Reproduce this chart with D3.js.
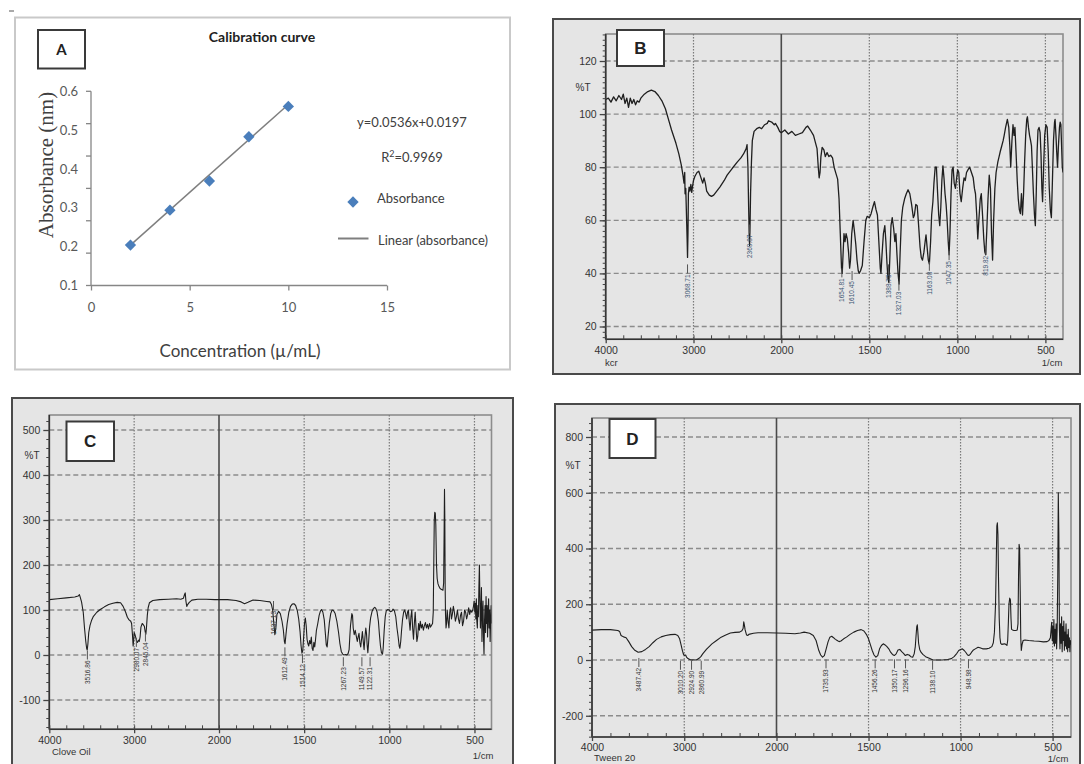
<!DOCTYPE html>
<html><head><meta charset="utf-8">
<script src="https://cdn.jsdelivr.net/npm/d3@7"></script>
<style>body{margin:0;background:#fff}svg{display:block}</style>
</head><body>
<svg id="c" width="1084" height="764"></svg>
<script>
// ---------- Panel A data ----------
const calConc = [2, 4, 6, 8, 10];
const calAbs = [0.204, 0.294, 0.369, 0.483, 0.561];
const trendConc = [2, 10];
const trendAbs = [0.204, 0.566];
const calXTicks = [0, 5, 10, 15];
const calYTicks = [0.1, 0.2, 0.3, 0.4, 0.5, 0.6];
const calTitle = "Calibration curve";
const calEquation = "y=0.0536x+0.0197";
const calR2 = "0.9969";

// ---------- FTIR tick labels ----------
const wnTicks = [4000, 3000, 2000, 1500, 1000, 500];
const wnDotted = [3000, 1500, 1000, 500];
const tTicksB = [20, 40, 60, 80, 100, 120];
const tTicksC = [-100, 0, 100, 200, 300, 400, 500];
const tTicksD = [-200, 0, 200, 400, 600, 800];

// ---------- Spectrum B ----------
const specB = [[4000,105.5],[3970,106],[3940,104.5],[3910,106.5],[3880,105],[3850,107],[3820,105.5],[3800,107.5],[3780,104],[3760,106],[3740,102.5],[3720,106],[3700,104],[3680,105.5],[3660,103.5],[3640,105],[3620,104.5],[3600,106],[3560,107.5],[3520,108.5],[3480,109],[3440,108.5],[3400,107],[3360,105],[3320,102],[3285,98],[3250,94],[3200,89],[3167,85],[3140,81],[3120,77],[3108,74],[3100,78],[3096,70],[3088,72],[3080,62],[3072,52],[3068,46],[3063,55],[3058,70],[3050,72.5],[3040,71],[3030,73.5],[3020,70.5],[3010,73],[3000,75],[2985,76.5],[2960,78],[2940,78.5],[2925,77],[2910,75.5],[2895,74],[2880,76],[2865,74],[2850,71],[2820,69.5],[2795,69],[2770,69.5],[2735,71],[2700,72.5],[2650,75],[2617,77],[2560,79.5],[2500,82],[2460,83.5],[2430,85],[2400,87],[2390,88.5],[2380,80],[2372,65],[2366,55],[2361,50.5],[2356,58],[2350,70],[2340,82],[2330,90],[2310,93.5],[2280,94.5],[2250,95],[2224,94.5],[2190,96],[2160,96.5],[2145,97.5],[2110,97],[2080,96],[2067,96.5],[2040,95],[2020,93.5],[2000,93],[1980,94],[1960,92.5],[1940,93.5],[1920,92],[1900,92.5],[1880,93],[1860,95],[1850,95.5],[1835,94],[1817,92],[1805,89],[1797,87],[1790,80],[1785,76],[1780,78],[1775,84],[1768,87.5],[1758,86.5],[1750,84],[1740,85.5],[1730,84],[1720,84.5],[1709,83.5],[1700,80],[1689,77.5],[1680,75.5],[1672,68],[1665,55],[1658,42],[1654,40],[1650,46],[1644,55],[1638,52],[1632,55],[1625,53],[1618,48],[1612,42],[1607,45],[1600,55],[1592,60],[1585,56],[1577,51],[1570,45],[1563,41],[1558,40],[1550,41],[1540,43],[1530,52],[1520,60],[1512,61.5],[1500,61],[1490,62.5],[1480,65],[1471,67],[1462,64],[1454,62],[1446,52],[1438,42],[1434,40],[1428,47],[1420,55],[1412,58],[1406,52],[1400,44],[1394,38],[1389,36.5],[1384,45],[1377,58],[1370,61],[1362,57],[1355,52],[1349,55],[1343,47],[1337,40],[1331,36],[1325,48],[1318,60],[1310,65],[1300,68],[1290,70],[1280,71.5],[1270,70],[1260,66],[1250,61],[1244,62],[1236,66],[1228,65.5],[1220,58],[1212,50],[1205,46],[1198,45],[1190,48],[1183,52],[1178,54.5],[1172,50],[1165,45],[1159,43.5],[1152,52],[1146,62],[1139,67],[1133,74],[1126,80],[1119,80],[1112,70],[1106,62],[1100,58],[1094,65],[1088,75],[1082,80.5],[1076,76],[1070,70],[1064,66],[1058,60],[1052,52],[1047,47],[1042,55],[1036,70],[1030,79],[1024,80],[1018,74],[1011,72],[1004,76],[998,79],[992,78],[985,70],[978,67],[970,72],[962,76],[955,75],[948,78],[940,79],[930,80],[920,78],[910,76],[903,72],[897,70],[890,62],[884,53],[878,60],[870,68],[864,70],[857,62],[850,53],[844,48],[839,47],[833,56],[826,68],[819,77],[812,72],[806,55],[800,45],[794,60],[787,72],[780,78],[770,82],[763,84],[756,86],[748,88],[740,90],[734,92],[726,95],[716,98],[708,95],[702,88],[697,80],[690,90],[684,96],[678,92],[673,95],[667,86],[660,75],[654,68],[648,64],[642,62.5],[636,70],[630,62],[624,70],[618,82],[612,92],[606,98],[602,99],[596,95],[590,92],[584,90],[579,88],[574,80],[568,70],[562,62],[557,58],[552,70],[547,86],[542,94],[536,95],[530,93],[525,85],[520,72],[516,67],[510,80],[504,92],[497,96],[490,95],[484,86],[478,72],[472,64],[466,61],[460,75],[454,90],[448,97],[445,98],[440,92],[436,86],[431,80],[426,88],[420,95],[416,97],[412,96],[408,88],[404,80],[400,78]];
const peaksB = [[3068,40,"3068.71"],[2360,55,"2360.87"],[1656,38.5,"1654.81"],[1598,37.5,"1610.45"],[1391,40,"1388.75"],[1332,33.5,"1327.03"],[1159,41,"1163.08"],[1047,45,"1047.35"],[838,47,"819.82"]];

// ---------- Spectrum C (Clove Oil) ----------
const specC = [[4000,123],[3900,125],[3800,127],[3700,129],[3660,131],[3645,134],[3635,128],[3620,118],[3600,95],[3585,60],[3570,30],[3560,15],[3553,11],[3545,25],[3535,50],[3520,66],[3500,78],[3480,86],[3440,95],[3400,101],[3350,107],[3300,112],[3250,115],[3200,117],[3160,116],[3130,108],[3100,95],[3080,84],[3060,78],[3040,75],[3030,70],[3020,45],[3012,20],[3005,35],[3000,50],[2990,45],[2980,38],[2970,30],[2960,28],[2950,33],[2940,30],[2930,40],[2920,62],[2905,70],[2895,68],[2880,64],[2870,52],[2862,46],[2855,60],[2845,88],[2835,105],[2820,116],[2780,121],[2700,123],[2600,124],[2500,125],[2450,124],[2420,126],[2405,135],[2398,138],[2390,120],[2380,108],[2370,112],[2350,117],[2320,122],[2250,124],[2150,124],[2050,123],[2000,123],[1950,123],[1900,121],[1870,118],[1850,114],[1830,117],[1800,122],[1760,121],[1720,119],[1700,118],[1692,112],[1685,100],[1678,70],[1672,45],[1666,60],[1660,90],[1650,97],[1640,92],[1630,75],[1622,55],[1616,30],[1612,25],[1607,45],[1600,70],[1590,95],[1580,108],[1570,113],[1560,114],[1550,110],[1540,98],[1532,80],[1524,52],[1518,20],[1513,4],[1508,10],[1503,40],[1498,70],[1493,82],[1488,65],[1483,35],[1478,25],[1473,20],[1468,32],[1463,25],[1458,40],[1453,15],[1448,10],[1443,28],[1438,18],[1433,35],[1428,55],[1420,70],[1412,88],[1404,98],[1398,101],[1390,95],[1382,78],[1376,50],[1370,22],[1365,18],[1360,40],[1352,72],[1344,92],[1336,100],[1328,99],[1318,92],[1308,75],[1298,50],[1290,25],[1282,8],[1274,2],[1266,0],[1258,1],[1250,0],[1242,3],[1236,12],[1232,40],[1228,65],[1224,78],[1220,92],[1216,88],[1212,60],[1206,45],[1200,55],[1194,42],[1188,30],[1183,40],[1178,48],[1173,28],[1168,18],[1163,35],[1158,52],[1153,30],[1148,12],[1143,40],[1138,60],[1134,48],[1130,22],[1126,5],[1122,25],[1116,62],[1110,82],[1102,96],[1094,103],[1086,106],[1080,104],[1072,96],[1064,75],[1058,45],[1052,20],[1046,5],[1040,2],[1036,15],[1030,55],[1024,85],[1018,98],[1010,101],[1000,100],[994,96],[986,97],[978,102],[970,98],[962,85],[955,60],[948,40],[942,20],[938,15],[933,30],[928,55],[922,80],[916,95],[910,100],[904,92],[898,80],[893,95],[888,100],[883,75],[878,55],[873,85],[868,100],[863,60],[858,35],[853,70],[848,95],[843,60],[838,30],[833,42],[828,70],[823,55],[818,75],[812,60],[806,68],[800,55],[794,65],[788,72],[782,60],[776,68],[770,58],[764,70],[758,62],[752,66],[746,70],[742,95],[739,200],[736,300],[733,317],[730,315],[727,290],[723,200],[719,170],[714,158],[708,152],[702,148],[696,146],[690,145],[685,144],[681,160],[678,280],[676,368],[674,300],[672,150],[670,90],[667,60],[664,70],[660,100],[655,75],[650,60],[645,95],[640,105],[635,80],[630,90],[624,108],[618,95],[612,75],[606,85],[600,100],[594,80],[588,70],[582,88],[576,95],[570,65],[564,75],[558,100],[552,95],[546,80],[540,90],[534,105],[528,90],[522,100],[516,95],[510,100],[506,108],[502,120],[498,95],[495,115],[492,80],[489,125],[486,75],[483,60],[480,110],[477,85],[474,150],[471,200],[468,120],[465,60],[462,100],[459,150],[456,30],[453,90],[450,120],[447,40],[444,2],[441,75],[438,110],[435,50],[432,130],[429,70],[426,110],[423,40],[420,95],[417,125],[414,60],[411,100],[408,30],[405,80],[402,110],[400,70]];
const peaksC = [[3551,-10,"3516.86"],[2974,18,"2980.07"],[2867,30,"2845.04"],[1680,100,"1637.13"],[1613,-3,"1612.49"],[1510,-18,"1514.12"],[1270,-25,"1267.23"],[1161,-25,"1149.57"],[1113,-25,"1122.31"]];

// ---------- Spectrum D (Tween 20) ----------
const specD = [[4000,107],[3900,109],[3800,109],[3720,106],[3700,102],[3685,88],[3670,85],[3650,82],[3630,80],[3600,65],[3570,48],[3540,36],[3500,28],[3460,30],[3420,38],[3380,48],[3340,62],[3300,74],[3250,83],[3200,88],[3150,91],[3100,92],[3070,88],[3050,76],[3035,55],[3020,34],[3010,22],[3000,16],[2985,18],[2975,10],[2960,5],[2940,2],[2920,0],[2900,1],[2880,0],[2860,2],[2840,6],[2820,12],[2800,22],[2760,38],[2700,58],[2650,70],[2600,82],[2550,90],[2500,97],[2450,99],[2400,100],[2375,105],[2362,113],[2355,137],[2348,125],[2340,108],[2325,90],[2310,88],[2300,92],[2250,96],[2200,98],[2100,98],[2000,97],[1950,96],[1900,94],[1870,97],[1850,100],[1820,96],[1800,88],[1785,70],[1770,34],[1760,18],[1750,10],[1740,16],[1730,40],[1720,65],[1710,82],[1700,85],[1690,80],[1680,74],[1670,70],[1660,66],[1650,68],[1635,76],[1620,82],[1600,92],[1580,100],[1560,106],[1540,109],[1525,104],[1510,90],[1500,76],[1490,55],[1480,34],[1470,18],[1460,10],[1450,16],[1440,40],[1430,52],[1420,58],[1410,54],[1400,48],[1390,40],[1380,28],[1370,20],[1360,16],[1350,22],[1340,36],[1330,38],[1320,30],[1310,24],[1300,16],[1290,20],[1280,18],[1270,12],[1260,10],[1252,22],[1246,48],[1242,85],[1238,120],[1235,126],[1232,100],[1228,60],[1222,38],[1215,28],[1205,20],[1190,12],[1170,6],[1150,0],[1130,0],[1100,0],[1070,2],[1050,5],[1035,12],[1020,24],[1010,34],[1000,38],[990,40],[980,34],[970,26],[962,18],[955,16],[948,20],[940,28],[930,36],[920,40],[905,46],[895,44],[880,40],[860,40],[845,42],[830,48],[822,62],[816,100],[810,200],[806,350],[803,480],[800,492],[797,450],[794,300],[790,150],[786,80],[782,60],[776,56],[770,57],[760,58],[752,55],[748,52],[744,70],[740,140],[737,200],[733,222],[729,215],[726,150],[723,110],[718,108],[710,106],[700,106],[692,108],[688,130],[685,300],[682,415],[679,400],[676,250],[673,80],[670,34],[666,55],[660,70],[650,72],[630,70],[600,68],[575,67],[550,65],[530,66],[520,70],[512,80],[508,110],[505,135],[502,70],[499,120],[496,60],[493,145],[490,50],[487,110],[484,60],[481,130],[478,40],[475,110],[472,300],[469,600],[466,450],[463,110],[460,40],[457,130],[454,60],[451,155],[448,30],[445,120],[442,70],[439,140],[436,35],[433,100],[430,50],[427,130],[424,40],[421,90],[418,30],[415,110],[412,45],[409,80],[406,30],[403,70],[400,55]];
const peaksD = [[3492,-25,"3487.42"],[3041,-35,"3010.20"],[2921,-35,"2924.90"],[2816,-35,"2860.99"],[1731,-30,"1735.93"],[1464,-30,"1456.26"],[1359,-30,"1350.17"],[1299,-30,"1296.16"],[1152,-35,"1138.10"],[957,-30,"948.98"]];

const svg = d3.select('#c');

// ================= Panel A =================
(function(){
  const g = svg.append('g');
  g.append('line').attr('x1',9).attr('x2',14).attr('y1',11).attr('y2',11).attr('stroke','#555').attr('stroke-width',1);
  g.append('rect').attr('x',15).attr('y',17.5).attr('width',495).attr('height',352)
    .attr('fill','#fff').attr('stroke','#c9c9c9').attr('stroke-width',2);
  g.append('rect').attr('x',38).attr('y',30).attr('width',47).attr('height',38.5)
    .attr('fill','#fff').attr('stroke','#3a3a3a').attr('stroke-width',2);
  g.append('text').attr('x',61.5).attr('y',55).attr('text-anchor','middle')
    .attr('font-family','Lato, sans-serif').attr('font-weight','bold').attr('font-size',15).attr('fill','#222').text('A');
  g.append('text').attr('x',262).attr('y',42).attr('text-anchor','middle')
    .attr('font-family','Lato, sans-serif').attr('font-weight','bold').attr('font-size',14).attr('fill','#222').text(calTitle);

  const x = d3.scaleLinear().domain([0,15]).range([91,387]);
  const y = d3.scaleLinear().domain([0.1,0.6]).range([285.5,91.3]);
  const tickPos = d3.scaleLinear().domain([0,6]).range([285.5,91.3]);
  const axC = '#868686', txtC = '#595959';

  g.append('line').attr('x1',x(0)).attr('x2',x(15)).attr('y1',y(0.1)).attr('y2',y(0.1)).attr('stroke',axC).attr('stroke-width',1.3);
  g.append('line').attr('x1',x(0)).attr('x2',x(0)).attr('y1',y(0.1)).attr('y2',y(0.6)).attr('stroke',axC).attr('stroke-width',1.3);
  const xa = d3.axisBottom(x).tickValues(calXTicks).tickSize(5).tickPadding(12);
  const gx = g.append('g').attr('transform',`translate(0,${y(0.1)})`).call(xa);
  gx.select('.domain').remove();
  gx.selectAll('line').attr('stroke',axC).attr('stroke-width',1.3);
  gx.selectAll('text').attr('font-family','Lato, sans-serif').attr('font-size',13).attr('fill',txtC);
  g.selectAll(null).data(d3.range(7)).join('line')
    .attr('x1',x(0)-5).attr('x2',x(0)).attr('y1',d=>tickPos(d)).attr('y2',d=>tickPos(d))
    .attr('stroke',axC).attr('stroke-width',1.3);
  g.selectAll(null).data(calYTicks).join('text')
    .attr('x',x(0)-13).attr('y',d=>y(d)).attr('dy','0.35em').attr('text-anchor','end')
    .attr('font-family','Lato, sans-serif').attr('font-size',13).attr('fill',txtC).text(d=>d.toFixed(1));

  g.append('text').attr('transform','translate(53,165) rotate(-90)').attr('text-anchor','middle')
    .attr('font-family','"Liberation Serif", serif').attr('font-size',21).attr('fill','#404040').text('Absorbance (nm)');
  g.append('text').attr('x',240).attr('y',357).attr('text-anchor','middle')
    .attr('font-family','Lato, sans-serif').attr('font-size',17).attr('fill','#404040').text('Concentration (\u00b5/mL)');

  g.append('path').datum(trendConc.map((c,i)=>[c,trendAbs[i]]))
    .attr('d',d3.line().x(d=>x(d[0])).y(d=>y(d[1])))
    .attr('fill','none').attr('stroke','#7f7f7f').attr('stroke-width',1.5);
  const diamond = d3.symbol().type(d3.symbolSquare).size(64);
  g.selectAll(null).data(calConc.map((c,i)=>[c,calAbs[i]])).join('path')
    .attr('d',diamond).attr('transform',d=>`translate(${x(d[0])},${y(d[1])}) rotate(45)`)
    .attr('fill','#4a7ebb');

  const lf = 'Lato, sans-serif';
  g.append('text').attr('x',412).attr('y',126.5).attr('text-anchor','middle').attr('font-family',lf).attr('font-size',13).attr('fill','#404040').text(calEquation);
  const r2 = g.append('text').attr('x',412).attr('y',161.5).attr('text-anchor','middle').attr('font-family',lf).attr('font-size',13).attr('fill','#404040');
  r2.append('tspan').text('R');
  r2.append('tspan').attr('dy',-5).attr('font-size',9).text('2');
  r2.append('tspan').attr('dy',5).text('='+calR2);
  g.append('path').attr('d',diamond).attr('transform','translate(353,202) rotate(45)').attr('fill','#4a7ebb');
  g.append('text').attr('x',377).attr('y',203).attr('font-family',lf).attr('font-size',13).attr('fill','#404040').text('Absorbance');
  g.append('line').attr('x1',338).attr('x2',368.5).attr('y1',238.5).attr('y2',238.5).attr('stroke','#7f7f7f').attr('stroke-width',2);
  g.append('text').attr('x',378).attr('y',245).attr('font-family',lf).attr('font-size',13).attr('fill','#404040').text('Linear (absorbance)');
})();

// ================= FTIR panels =================
function ftir(cfg){
  const g = svg.append('g');
  const [bx0,by0,bx1,by1] = cfg.box;
  const [px0,py0,px1,py1] = cfg.plot;
  g.append('rect').attr('x',bx0).attr('y',by0).attr('width',bx1-bx0).attr('height',by1-by0)
    .attr('fill','#e5e5e5').attr('stroke','#4a4a4a').attr('stroke-width',2);
  const x = d3.scaleLinear().domain([4000,2000,400]).range([px0,cfg.x2000,px1]);
  const y = d3.scaleLinear().domain([cfg.yA[0],cfg.yB[0]]).range([cfg.yA[1],cfg.yB[1]]);
  const font = '"Liberation Sans", Arial, sans-serif';

  g.append('rect').attr('x',px0).attr('y',py0).attr('width',px1-px0).attr('height',py1-py0)
    .attr('fill','none').attr('stroke','#8d8d8d').attr('stroke-width',1.6);
  g.selectAll(null).data(cfg.yTicks).join('line')
    .attr('x1',px0).attr('x2',px1).attr('y1',d=>y(d)).attr('y2',d=>y(d))
    .attr('stroke','#8c8c8c').attr('stroke-width',1.3).attr('stroke-dasharray','5,3');
  g.selectAll(null).data(wnDotted).join('line')
    .attr('x1',d=>x(d)).attr('x2',d=>x(d)).attr('y1',py0).attr('y2',py1)
    .attr('stroke','#7a7a7a').attr('stroke-width',1.2).attr('stroke-dasharray','1.5,1.5');
  g.append('line').attr('x1',x(2000)).attr('x2',x(2000)).attr('y1',py0).attr('y2',py1)
    .attr('stroke','#4a4a4a').attr('stroke-width',1.6);

  const cid = 'clip'+cfg.name;
  g.append('clipPath').attr('id',cid).append('rect').attr('x',px0).attr('y',py0).attr('width',px1-px0).attr('height',py1-py0);
  g.append('path').datum(cfg.data).attr('clip-path',`url(#${cid})`)
    .attr('d',d3.line().x(d=>x(d[0])).y(d=>y(d[1])))
    .attr('fill','none').attr('stroke','#1f1f1f').attr('stroke-width',cfg.lw).attr('stroke-linejoin','round');

  cfg.peaks.forEach(p=>{
    const xx = x(p[0]), yy = y(p[1]);
    g.append('line').attr('x1',xx).attr('x2',xx).attr('y1',yy-9).attr('y2',yy).attr('stroke','#555').attr('stroke-width',1);
    g.append('text').attr('transform',`translate(${xx+2.3},${yy+1}) rotate(-90)`).attr('text-anchor','end')
      .attr('font-family',font).attr('font-size',6.5).attr('fill',cfg.peakColor).text(p[2]);
  });

  g.append('line').attr('x1',px0).attr('x2',px0).attr('y1',py0).attr('y2',py1).attr('stroke','#333').attr('stroke-width',1.6);
  const yMin = y.invert(py1), yMax = y.invert(py0);
  const minor = d3.range(Math.ceil(yMin/cfg.yMinor)*cfg.yMinor, yMax, cfg.yMinor);
  const gym = g.append('g').attr('transform',`translate(${px0},0)`).call(d3.axisLeft(y).tickValues(minor).tickSize(3).tickFormat(''));
  gym.select('.domain').remove();
  gym.selectAll('line').attr('stroke','#444');
  const gy = g.append('g').attr('transform',`translate(${px0},0)`).call(d3.axisLeft(y).tickValues(cfg.yTicks).tickSize(6).tickPadding(3).tickFormat(d=>String(d)));
  gy.select('.domain').remove();
  gy.selectAll('line').attr('stroke','#444').attr('stroke-width',1.3);
  gy.selectAll('text').attr('font-family',font).attr('font-size',10.5).attr('fill','#333');
  g.append('text').attr('x',cfg.pctT[0]).attr('y',cfg.pctT[1]).attr('dy','0.35em').attr('text-anchor','middle')
    .attr('font-family',font).attr('font-size',10).attr('fill','#333').text('%T');

  g.append('line').attr('x1',px0).attr('x2',px1).attr('y1',py1).attr('y2',py1).attr('stroke','#333').attr('stroke-width',1.6);
  const xMinor = d3.range(4000,2000,-200).concat(d3.range(2000,400,-100));
  const gxm = g.append('g').attr('transform',`translate(0,${py1})`).call(d3.axisBottom(x).tickValues(xMinor).tickSize(-4).tickFormat(''));
  gxm.select('.domain').remove();
  gxm.selectAll('line').attr('stroke','#444');
  const gx = g.append('g').attr('transform',`translate(0,${py1})`).call(d3.axisBottom(x).tickValues(wnTicks).tickSize(4).tickPadding(cfg.xPad).tickFormat(d=>String(d)));
  gx.select('.domain').remove();
  gx.selectAll('line').attr('stroke','#444').attr('stroke-width',1.3);
  gx.selectAll('text').attr('font-family',font).attr('font-size',10.5).attr('fill','#333');
  g.append('text').attr('x',cfg.sample[0]).attr('y',cfg.sample[1]).attr('font-family',font).attr('font-size',9.5).attr('fill','#333').text(cfg.sampleName);
  g.append('text').attr('x',cfg.unit[0]).attr('y',cfg.unit[1]).attr('text-anchor','middle').attr('font-family',font).attr('font-size',9.5).attr('fill','#333').text('1/cm');

  const [lx,ly,lw,lh] = cfg.letterBox;
  g.append('rect').attr('x',lx).attr('y',ly).attr('width',lw).attr('height',lh)
    .attr('fill','#fff').attr('stroke','#3a3a3a').attr('stroke-width',2);
  g.append('text').attr('x',lx+lw/2).attr('y',ly+lh/2).attr('dy','0.36em').attr('text-anchor','middle')
    .attr('font-family',font).attr('font-weight','bold').attr('font-size',17).attr('fill','#222').text(cfg.letter);
}

ftir({name:'B', box:[553,19,1080,374], plot:[605.7,34,1063,339.3], x2000:781.3,
  yA:[20,326.5], yB:[120,61], yTicks:tTicksB, yMinor:2, data:specB, peaks:peaksB, lw:1.3,
  peakColor:'#3c5573', pctT:[583,87], xPad:3, sample:[605,366], sampleName:'kcr', unit:[1052,366],
  letterBox:[617,30,47,36], letter:'B'});

ftir({name:'C', box:[12,398,513,772], plot:[49.3,415,491.5,729.3], x2000:219,
  yA:[0,655], yB:[-100,700], yTicks:tTicksC, yMinor:20, data:specC, peaks:peaksC, lw:1.1,
  peakColor:'#333', pctT:[32,455], xPad:3, sample:[52,755], sampleName:'Clove Oil', unit:[483,759],
  letterBox:[66.5,421.5,47.5,39.5], letter:'C'});

ftir({name:'D', box:[555,404,1080,772], plot:[592,418,1071,737], x2000:776.5,
  yA:[0,660], yB:[800,437], yTicks:tTicksD, yMinor:25, data:specD, peaks:peaksD, lw:1.1,
  peakColor:'#333', pctT:[573,465], xPad:3, sample:[594,761], sampleName:'Tween 20', unit:[1058,762],
  letterBox:[609.5,419,46,39], letter:'D'});
</script>
</body></html>
